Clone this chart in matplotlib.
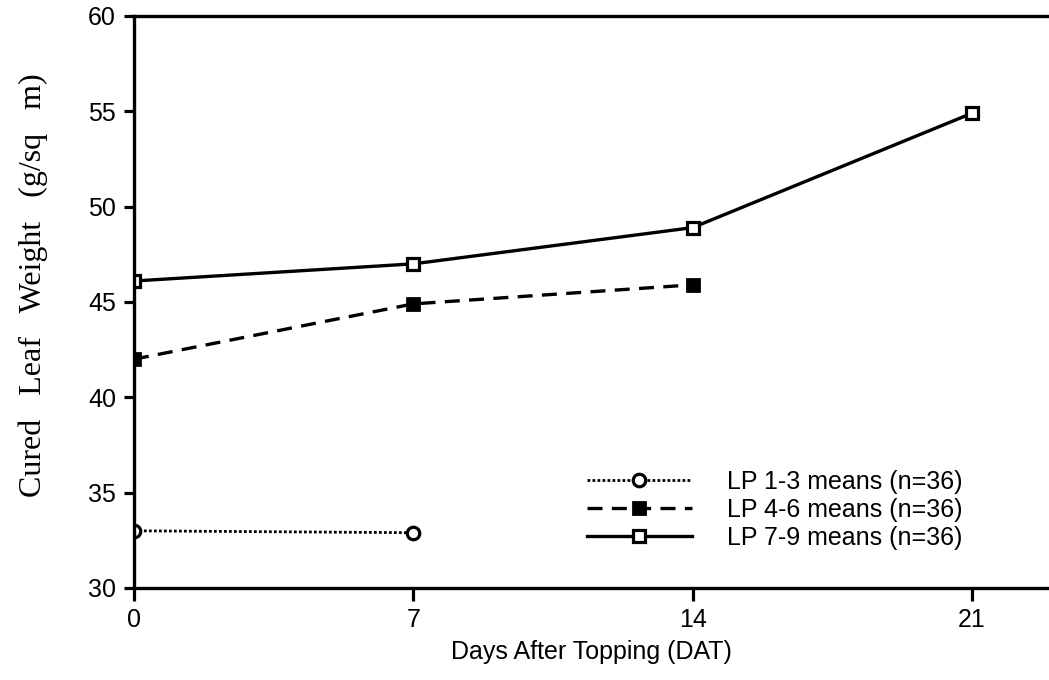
import numpy as np
import matplotlib
matplotlib.use("Agg")
import matplotlib.pyplot as plt

plt.rcParams['font.family'] = ['Liberation Sans', 'DejaVu Sans']

# days after topping and mean cured leaf weight for each leaf position group
days_13 = [0, 7]
lp13 = [33.0, 32.9]
days_46 = [0, 7, 14]
lp46 = [42.0, 44.9, 45.9]
days_79 = [0, 7, 14, 21]
lp79 = [46.1, 47.0, 48.9, 54.9]

labels = ['LP 1-3 means (n=36)', 'LP 4-6 means (n=36)', 'LP 7-9 means (n=36)']
xticks = [0, 7, 14, 21]
yticks = [30, 35, 40, 45, 50, 55, 60]

fig = plt.figure(figsize=(10.49, 6.8), dpi=100)
ax = fig.add_axes([0.1277, 0.1353, 0.8723, 0.8412])

lw = 2.4
ax.plot(days_13, lp13, color='black', lw=2.0, linestyle=(0, (1, 0.8)),
        marker='o', ms=9, mfc='white', mec='black', mew=2.3, label=labels[0])
ax.plot(days_46, lp46, color='black', lw=lw, linestyle=(0, (4.5, 2.8)),
        marker='s', ms=9, mfc='black', mec='black', mew=2.0, label=labels[1])
ax.plot(days_79, lp79, color='black', lw=lw, linestyle='-',
        marker='s', ms=9, mfc='white', mec='black', mew=2.3, label=labels[2])

ax.set_xlim(0, 22.93)
ax.set_ylim(30, 60)
ax.set_xticks(xticks)
ax.set_yticks(yticks)

for side in ['left', 'top', 'bottom']:
    ax.spines[side].set_linewidth(2.4)
ax.spines['right'].set_visible(False)

ax.tick_params(axis='both', direction='out', width=2.3, labelsize=18, colors='black')
ax.tick_params(axis='y', length=7, pad=6)
ax.tick_params(axis='x', length=9.5, pad=5)

ax.set_xlabel('Days After Topping (DAT)', fontsize=18, labelpad=6)
ax.set_ylabel('Cured   Leaf   Weight   (g/sq   m)', fontsize=23,
              family=['Liberation Serif', 'DejaVu Serif'])
ax.yaxis.set_label_coords(-0.094, 0.53)

leg = ax.legend(loc='upper left', bbox_to_anchor=(0.495, 0.206), frameon=False,
                fontsize=18, handlelength=4.2, handletextpad=1.4, labelspacing=0.15,
                numpoints=1, borderpad=0, borderaxespad=0)

fig.savefig('out.png', dpi=100)
